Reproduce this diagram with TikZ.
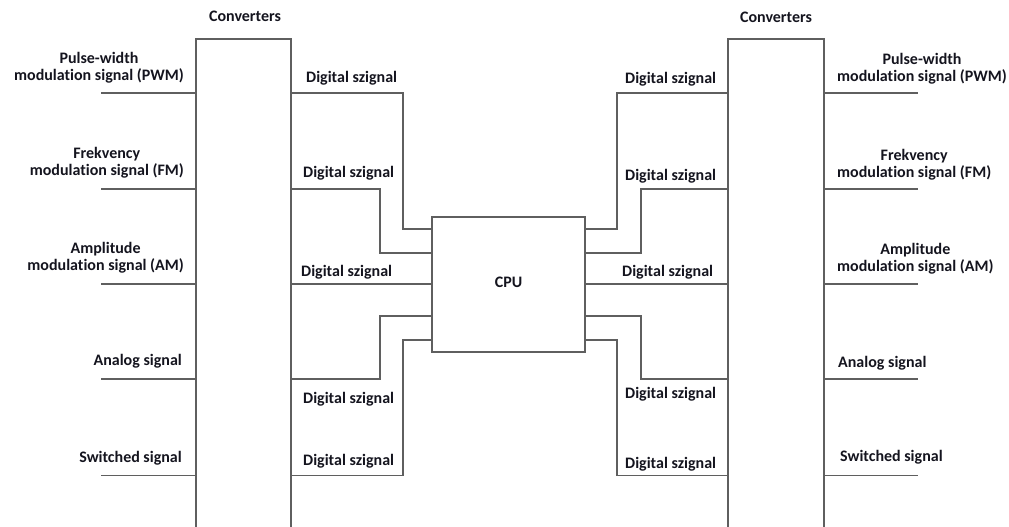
\documentclass[tikz,border=0pt]{standalone}
\usepackage{fontspec}
\setmainfont{Carlito}[Ligatures={NoCommon}]
\definecolor{linegray}{RGB}{95,95,95}
\definecolor{textdark}{RGB}{20,20,30}
\begin{document}
\begin{tikzpicture}[x=1pt,y=-1pt,
  wire/.style={draw=linegray, line width=1.3pt},
  box/.style={draw=linegray, line width=1.3pt, rectangle, outer sep=0pt, inner sep=0pt},
  lbl/.style={font=\bfseries\fontsize{16}{17}\selectfont, text=textdark, inner sep=0pt, align=center}]
\useasboundingbox (0,0) rectangle (1009,527);
% rows
\coordinate (r1) at (0,93);
\coordinate (r2) at (0,189);
\coordinate (r3) at (0,284);
\coordinate (r4) at (0,379);
\coordinate (r5) at (0,475.5);
\coordinate (c1) at (0,229);
\coordinate (c2) at (0,253);
\coordinate (c3) at (0,316);
\coordinate (c4) at (0,340);
\coordinate (lxa) at (403,0);
\coordinate (lxb) at (380,0);
\coordinate (rxa) at (617,0);
\coordinate (rxb) at (641,0);
% boxes
\node[box, minimum width=95pt, minimum height=520pt, anchor=north west] (L) at (196,39) {};
\node[box, minimum width=96pt, minimum height=520pt, anchor=north west] (R) at (728,39) {};
\node[box, minimum width=153pt, minimum height=135pt, anchor=north west] (CPU) at (432,217) {};
\node[lbl] (cputxt) at (508.5,282.5) {CPU};
% free ends
\coordinate (li1) at (101,93);
\coordinate (li2) at (101,189);
\coordinate (li3) at (101,284);
\coordinate (li4) at (101,379);
\coordinate (li5) at (101,475.5);
\coordinate (ro1) at (918,93);
\coordinate (ro2) at (918,189);
\coordinate (ro3) at (918,284);
\coordinate (ro4) at (918,379);
\coordinate (ro5) at (918,475.5);
% input stubs
\foreach \i in {1,...,5} {
  \draw[wire] (li\i) -- (L.west |- li\i);
  \draw[wire] (R.east |- ro\i) -- (ro\i);
}
% left digital wires
\draw[wire] (L.east |- r1) -| (lxa |- c1) -- (CPU.west |- c1);
\draw[wire] (L.east |- r2) -| (lxb |- c2) -- (CPU.west |- c2);
\draw[wire] (L.east |- r3) -- (CPU.west |- r3);
\draw[wire] (L.east |- r4) -| (lxb |- c3) -- (CPU.west |- c3);
\draw[wire] (L.east |- r5) -| (lxa |- c4) -- (CPU.west |- c4);
% right digital wires
\draw[wire] (R.west |- r1) -| (rxa |- c1) -- (CPU.east |- c1);
\draw[wire] (R.west |- r2) -| (rxb |- c2) -- (CPU.east |- c2);
\draw[wire] (R.west |- r3) -- (CPU.east |- r3);
\draw[wire] (R.west |- r4) -| (rxb |- c3) -- (CPU.east |- c3);
\draw[wire] (R.west |- r5) -| (rxa |- c4) -- (CPU.east |- c4);
% titles
\node[lbl] (convL) at (245,16.5) {Converters};
\node[lbl] (convR) at (776,17.5) {Converters};
% left labels
\node[lbl, anchor=east] (lpwm) at (184,67.5) {Pulse-width\\modulation signal (PWM)};
\node[lbl, anchor=east] (lfm) at (184,162.5) {Frekvency\\modulation signal (FM)};
\node[lbl, anchor=east] (lam) at (184,257.5) {Amplitude\\modulation signal (AM)};
\node[lbl, anchor=east] (lan) at (182,361.5) {Analog signal};
\node[lbl, anchor=east] (lsw) at (182,458.5) {Switched signal};
% right labels
\node[lbl, anchor=west] (rpwm) at (837,68.5) {Pulse-width\\modulation signal (PWM)};
\node[lbl, anchor=west] (rfm) at (837,165) {Frekvency\\modulation signal (FM)};
\node[lbl, anchor=west] (ram) at (837,259) {Amplitude\\modulation signal (AM)};
\node[lbl, anchor=west] (ran) at (838,363.5) {Analog signal};
\node[lbl, anchor=west] (rsw) at (840,457.5) {Switched signal};
% digital labels left
\node[lbl, anchor=west] (dl1) at (306,78.5) {Digital szignal};
\node[lbl, anchor=west] (dl2) at (303,173.5) {Digital szignal};
\node[lbl, anchor=west] (dl3) at (301,272) {Digital szignal};
\node[lbl, anchor=west] (dl4) at (303,399.5) {Digital szignal};
\node[lbl, anchor=west] (dl5) at (303,461.5) {Digital szignal};
% digital labels right
\node[lbl, anchor=west] (dr1) at (625,79) {Digital szignal};
\node[lbl, anchor=west] (dr2) at (625,176) {Digital szignal};
\node[lbl, anchor=west] (dr3) at (622,272.5) {Digital szignal};
\node[lbl, anchor=west] (dr4) at (625,394.5) {Digital szignal};
\node[lbl, anchor=west] (dr5) at (625,464) {Digital szignal};
\end{tikzpicture}
\end{document}
